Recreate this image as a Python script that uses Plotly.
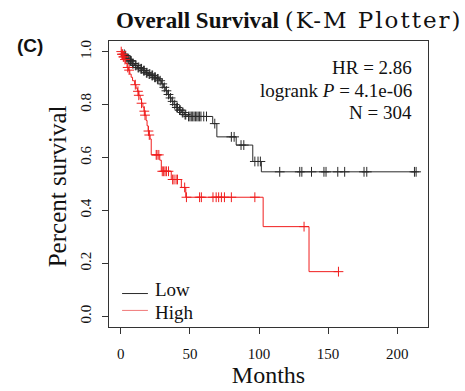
import numpy as np
import plotly.graph_objects as go

# ---- data ----
low_t = [0, 1, 2, 3, 4, 5, 6, 8, 10, 12, 14, 16, 18, 20, 22, 24, 26, 28, 29.5, 31, 32.5,
         34, 35.5, 37, 38.5, 40, 42, 44, 46, 48, 66.5, 69.5, 83.5, 95.5, 101.7]
low_s = [1.0, 0.995, 0.99, 0.985, 0.975, 0.97, 0.965, 0.955, 0.948, 0.94, 0.935, 0.928,
         0.92, 0.915, 0.91, 0.903, 0.897, 0.89, 0.878, 0.865, 0.852, 0.838, 0.825, 0.812,
         0.8, 0.789, 0.779, 0.77, 0.762, 0.755, 0.728, 0.678, 0.647, 0.585, 0.546]
low_end = 213.7
low_cens = [2.5, 3.5, 4.5, 5.5, 6.5, 7, 7.5, 8.5, 9, 10.5, 11, 12.5, 13, 14.5, 15, 16.5, 17,
            18.5, 19, 20.5, 21, 22.5, 23, 24.5, 25, 26.5, 27, 28.5, 30, 31.5, 33, 34.5, 36,
            37.5, 39, 40.5, 41, 42.5, 43, 44.5, 45, 46.5, 47, 49, 50, 51, 52, 53, 54, 55, 56,
            57, 58, 60, 62, 68, 80, 82, 87, 89, 97, 99.3, 101, 115, 129.5, 131, 138, 147,
            148.5, 157, 162, 176, 178, 212.5, 213.7]

high_t = [0, 0.5, 1.5, 2.5, 3.5, 4.5, 5.5, 6.5, 7.5, 8.5, 10, 11, 12, 13, 14, 15, 16, 16.8,
          17.5, 18.3, 19, 19.8, 20.5, 21.2, 22, 28.2, 29.3, 36.5, 43.8, 47, 103, 136.2]
high_s = [1.0, 0.99, 0.98, 0.97, 0.955, 0.94, 0.93, 0.915, 0.903, 0.89, 0.875, 0.862, 0.85,
          0.835, 0.82, 0.805, 0.79, 0.775, 0.76, 0.74, 0.72, 0.70, 0.685, 0.67, 0.61, 0.59,
          0.548, 0.517, 0.487, 0.45, 0.339, 0.169]
high_end = 157.5
high_cens = [0.3, 0.8, 1.2, 1.8, 2.2, 3, 5, 6, 10.5, 12.4, 13, 15, 17, 17.5, 20, 20.6, 25.6,
             26.2, 27.5, 30, 31, 32, 33, 34.5, 37.5, 38.5, 40, 41, 46.2, 47.5, 57, 58.3, 66.7,
             69, 70.8, 72.8, 75, 80, 97, 132.6, 157.5]

group_names = ["Low", "High"]
x_ticks = [0, 50, 100, 150, 200]
y_ticks = [0.0, 0.2, 0.4, 0.6, 0.8, 1.0]
y_ticktext = ["0.0", "0.2", "0.4", "0.6", "0.8", "1.0"]
stats = ["HR = 2.86", "logrank <i>P</i> = 4.1e-06", "N = 304"]

SERIF = "Liberation Serif"
BLACK = "#2a2a2a"
RED = "rgb(240,30,30)"
RED_LEG = "rgb(240,120,120)"
TXT = "#111"


def step_at(ts, ss, x):
    idx = np.searchsorted(np.array(ts), np.array(x), side="right") - 1
    return np.array(ss)[idx]


fig = go.Figure()
for name, ts, ss, end, cens, col in [(group_names[0], low_t, low_s, low_end, low_cens, BLACK),
                                     (group_names[1], high_t, high_s, high_end, high_cens, RED)]:
    fig.add_trace(go.Scatter(x=list(ts) + [end], y=list(ss) + [ss[-1]], mode="lines",
                             line=dict(color=col, width=1, shape="hv"), name=name,
                             showlegend=False))
    fig.add_trace(go.Scatter(x=cens, y=step_at(ts, ss, cens), mode="markers",
                             marker=dict(symbol="cross-thin", size=7,
                                         line=dict(color=col, width=1)),
                             showlegend=False, hoverinfo="skip"))

axis_common = dict(showgrid=False, zeroline=False, ticks="outside", ticklen=6,
                   tickcolor="#333", showline=True, linecolor="#333", linewidth=1,
                   mirror=True, tickfont=dict(family=SERIF, size=15, color=TXT))
fig.update_xaxes(range=[-8.55, 222.3], tickvals=x_ticks, ticklabelstandoff=7, **axis_common,
                 title=dict(text="Months", font=dict(family=SERIF, size=24, color=TXT),
                            standoff=0))
fig.update_yaxes(range=[-0.04, 1.04], tickvals=y_ticks, ticktext=y_ticktext, tickangle=-90,
                 ticklabelstandoff=5, **axis_common)

# y-axis title placed like R's mtext
fig.add_annotation(text="Percent survival", xref="paper", yref="paper", x=-0.163, y=0.492,
                   xanchor="center", yanchor="middle", textangle=-90, showarrow=False,
                   font=dict(family=SERIF, size=25, color=TXT))

ann_y = [0.907, 0.828, 0.749]
for txt, yy in zip(stats, ann_y):
    fig.add_annotation(text=txt, xref="paper", yref="paper", x=0.955, y=yy, xanchor="right",
                       yanchor="middle", showarrow=False,
                       font=dict(family=SERIF, size=19, color=TXT))

# manual legend (R-style, inside plot bottom-left)
leg_line_y = [0.117, 0.058]
leg_text_y = [0.130, 0.051]
for name, col, ly, ty in zip(group_names, [BLACK, RED_LEG], leg_line_y, leg_text_y):
    fig.add_shape(type="line", xref="paper", yref="paper", x0=0.041, x1=0.122, y0=ly, y1=ly,
                  line=dict(color=col, width=1))
    fig.add_annotation(text=name, xref="paper", yref="paper", x=0.138, y=ty, xanchor="left",
                       yanchor="middle", showarrow=False,
                       font=dict(family=SERIF, size=19, color=TXT))

fig.add_annotation(text="<b>Overall Survival</b> <span style='font-family:DejaVu Serif;letter-spacing:2px'>(K-M Plotter)</span>",
                   xref="paper", yref="paper", x=0.566, y=1.072, xanchor="center",
                   yanchor="middle", showarrow=False,
                   font=dict(family=SERIF, size=23, color=TXT))
fig.add_annotation(text="<b>(C)</b>", xref="paper", yref="paper", x=-0.249, y=0.986,
                   xanchor="center", yanchor="middle", showarrow=False,
                   font=dict(family="Liberation Sans", size=19, color=TXT))

fig.update_layout(
    width=465, height=391,
    margin=dict(l=109, r=37, t=41, b=59),
    paper_bgcolor="white", plot_bgcolor="white",
    showlegend=False,
)

fig.write_html("out.html")
